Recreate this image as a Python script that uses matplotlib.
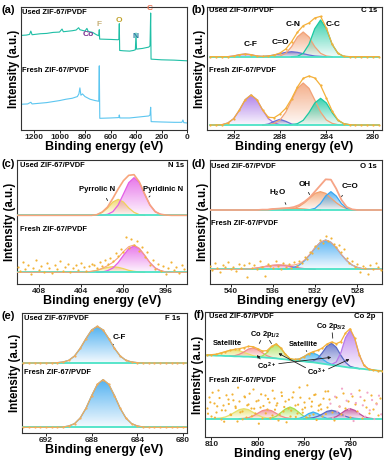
import numpy as np
import matplotlib.pyplot as plt
from matplotlib.path import Path
from matplotlib.patches import PathPatch, FancyArrowPatch
from matplotlib.colors import to_rgb

plt.rcParams['font.family'] = ['Liberation Sans', 'DejaVu Sans']
plt.rcParams['font.weight'] = 'bold'
plt.rcParams['mathtext.fontset'] = 'custom'
plt.rcParams['mathtext.rm'] = 'Liberation Sans:bold'
plt.rcParams['mathtext.default'] = 'rm'

# ---------------- data (intensity in arbitrary units) ----------------
# (a) survey
survey_used_x = [1302, 1260, 1235, 1225, 1215, 1150, 1100, 1050, 1000, 980, 970, 900, 870, 850, 840,
                 800, 785, 775, 740, 710, 692, 688, 685, 600, 540, 534, 531, 528, 500, 450, 420, 405,
                 400, 396, 350, 300, 290, 285, 282, 200, 100, 0]
survey_used_y = [283, 284, 286, 296, 285, 288, 289, 292, 293, 302, 294, 297, 299, 306, 300,
                 296, 304, 295, 292, 285, 282, 300, 272, 271, 270, 272, 318, 238, 237, 236, 238, 240,
                 290, 242, 244, 248, 252, 350, 212, 210, 209, 207]
survey_fresh_x = [1302, 1250, 1225, 1215, 1100, 1000, 950, 900, 860, 848, 840, 832, 820, 800, 760,
                  720, 692, 688, 684, 600, 540, 534, 531, 527, 450, 400, 350, 300, 290, 285, 281,
                  200, 100, 40, 32, 25, 0]
survey_fresh_y = [77, 78, 83, 78, 82, 88, 92, 95, 100, 108, 126, 104, 108, 100, 92,
                  88, 86, 192, 35, 36, 37, 38, 45, 36, 36, 38, 40, 42, 45, 68, 25,
                  24, 23, 23, 30, 22, 21]

# (b) C 1s, 294.0 -> 279.5 eV every 0.5 eV
c1s_x = np.arange(294.0, 279.25, -0.5)
c1s_used_base = 220
c1s_used_cf = [0,0,0,0,2,6,8,6,2,0, 0,0,0,0,0,0,0,0,0,0, 0,0,0,0,0,0,0,0,0,0]
c1s_used_co = [0,0,0,0,0,0,0,0,0,1, 2,5,9,13,15,13,9,5,2,1, 0,0,0,0,0,0,0,0,0,0]
c1s_used_cn = [0,0,0,0,0,0,0,0,0,0, 0,0,2,10,30,59,74,59,30,10, 2,0,0,0,0,0,0,0,0,0]
c1s_used_cc = [0,0,0,0,0,0,0,0,0,0, 0,0,0,0,0,1,10,37,84,110, 84,37,10,1,0,0,0,0,0,0]
c1s_fresh_base = 15
c1s_fresh_cf = [0,0,1,6,19,45,76,90,76,45, 19,6,1,0,0,0,0,0,0,0, 0,0,0,0,0,0,0,0,0,0]
c1s_fresh_co = [0,0,0,0,0,0,0,0,0,0, 3,11,17,11,3,0,0,0,0,0, 0,0,0,0,0,0,0,0,0,0]
c1s_fresh_cn = [0,0,0,0,0,0,0,0,0,0, 1,5,15,39,75,110,126,110,75,39, 15,5,1,0,0,0,0,0,0,0]
c1s_fresh_cc = [0,0,0,0,0,0,0,0,0,0, 0,0,0,0,1,4,14,37,66,80, 66,37,14,4,1,0,0,0,0,0]

# (c) N 1s, 410.0 -> 394.0 eV every 0.5 eV
n1s_x = np.arange(410.0, 393.75, -0.5)
n1s_used_base = 206
n1s_used_pyrrolic = [0,0,0,0,0,0,0,0,0,0, 0,0,0,0,0,2,9,22,40,48, 40,22,9,2,0,0,0,0,0,0, 0,0,0]
n1s_used_pyridinic = [0,0,0,0,0,0,0,0,0,0, 0,0,0,0,0,0,1,3,11,31, 64,98,113,98,64,31,11,3,1,0, 0,0,0]
n1s_fresh_base = 35
n1s_fresh_pyrrolic = [0,0,0,0,0,0,0,0,0,0, 0,0,0,1,3,6,11,15,17,15, 11,6,3,1,0,0,0,0,0,0, 0,0,0]
n1s_fresh_pyridinic = [0,0,0,0,0,0,0,0,0,0, 0,0,0,0,0,0,1,5,13,29, 51,71,79,71,51,29,13,5,1,0, 0,0,0]
n1s_dot_x = np.arange(410.0, 394.1, -0.25)
n1s_fresh_dots = [52, 38, 66, 45, 58, 30, 49, 71, 41, 55, 36, 62, 47, 33, 58, 44, 69, 39, 51, 60,
                  35, 48, 57, 42, 64, 50, 38, 55, 61,
                  58, 47, 66, 55, 72, 60, 78, 70, 92, 84, 105, 96, 142, 108, 135, 118,
                  128, 100, 112, 80, 95, 58, 72, 44,
                  60, 38, 55, 30, 47, 66, 41, 52, 34, 58, 45]

# (d) O 1s, 542.0 -> 525.5 eV every 0.5 eV
o1s_x = np.arange(542.0, 525.25, -0.5)
o1s_used_base = 222
o1s_used_h2o = [0,0,0,0,0,0,0,0,0,0, 1,1,3,4,5,5,5,4,3,1, 1,0,0,0,0,0,0,0,0,0, 0,0,0,0]
o1s_used_oh = [0,0,0,0,0,0,0,0,0,0, 0,0,0,0,0,1,4,11,22,36, 50,55,50,36,22,11,4,1,0,0, 0,0,0,0]
o1s_used_co = [0,0,0,0,0,0,0,0,0,0, 0,0,0,0,0,0,0,0,0,1, 5,19,42,55,42,19,5,1,0,0, 0,0,0,0]
o1s_fresh_base = 44
o1s_fresh_h2o = [0,0,0,0,0,0,0,1,2,4, 7,10,12,13,12,10,7,4,2,1, 0,0,0,0,0,0,0,0,0,0, 0,0,0,0]
o1s_fresh_co = [0,0,0,0,0,0,0,0,0,0, 0,0,0,0,1,2,6,13,26,44, 65,81,88,81,65,44,26,13,6,2, 1,0,0,0]
o1s_dot_x = np.arange(542.0, 525.6, -0.25)
o1s_fresh_dots = [55, 42, 63, 48, 37, 58, 50, 66, 44, 52, 39, 61, 47, 56, 22, 64, 49, 58, 45, 70,
                  52, 25, 60, 55, 47, 68, 53, 44,
                  62, 50, 60, 48, 66, 55, 70, 64, 80, 76, 97, 92, 115, 108, 133, 124,
                  145, 128, 138, 120, 112, 118, 95, 104,
                  78, 62, 70, 52, 60, 36, 55, 48, 30, 58, 45, 62, 50, 41]

# (e) F 1s, 694.0 -> 679.5 eV every 0.5 eV
f1s_x = np.arange(694.0, 679.25, -0.5)
f1s_used_base = 210
f1s_used_cf = [0,0,0,0,0,0,1,3,8,21, 44,73,99,110,99,73,44,21,8,3, 1,0,0,0,0,0,0,0,0,0]
f1s_fresh_base = 17
f1s_fresh_cf = [0,0,0,0,0,0,0,1,4,11, 28,57,95,129,143,129,95,57,28,11, 4,1,0,0,0,0,0,0,0,0]

# (f) Co 2p, 811 -> 773 eV every 1 eV
co2p_x = np.arange(811, 772.5, -1)
co2p_used_base = [245, 245, 244, 244, 243, 243, 242, 242, 241, 241, 240, 239, 239, 238, 237, 236,
                  234, 233, 231, 230, 228, 227, 225, 224, 222, 220, 218, 216, 214, 212, 210, 208,
                  207, 205, 204, 202, 201, 199, 198]
co2p_used_sat1 = [1,2,4,8,13,17,19,17,13,8, 4,2,1,0,0,0,0,0,0,0, 0,0,0,0,0,0,0,0,0,0, 0,0,0,0,0,0,0,0,0]
co2p_used_co2_12 = [0,0,0,0,0,0,2,6,14,23, 27,23,14,6,2,0,0,0,0,0, 0,0,0,0,0,0,0,0,0,0, 0,0,0,0,0,0,0,0,0]
co2p_used_co3_12 = [0,0,0,0,0,0,0,0,0,0, 0,1,4,15,33,43,33,15,4,1, 0,0,0,0,0,0,0,0,0,0, 0,0,0,0,0,0,0,0,0]
co2p_used_sat2 = [0,0,0,0,0,0,0,0,0,0, 0,0,0,0,0,0,0,0,0,2, 6,14,24,28,24,14,6,2,0,0, 0,0,0,0,0,0,0,0,0]
co2p_used_co2_32 = [0,0,0,0,0,0,0,0,0,0, 0,0,0,0,0,0,0,0,0,0, 0,0,1,4,14,33,55,65,55,33, 14,4,1,0,0,0,0,0,0]
co2p_used_co3_32 = [0,0,0,0,0,0,0,0,0,0, 0,0,0,0,0,0,0,0,0,0, 0,0,0,0,0,0,0,2,11,41, 88,113,88,41,11,2,0,0,0]
co2p_fresh_base = 55
co2p_fresh_sat1 = [0,0,1,2,5,11,19,27,30,27, 19,11,5,2,1,0,0,0,0,0, 0,0,0,0,0,0,0,0,0,0, 0,0,0,0,0,0,0,0,0]
co2p_fresh_co2_12 = [0,0,0,0,0,0,0,0,1,3, 8,16,24,27,24,16,8,3,1,0, 0,0,0,0,0,0,0,0,0,0, 0,0,0,0,0,0,0,0,0]
co2p_fresh_co3_12 = [0,0,0,0,0,0,0,0,0,0, 0,0,0,0,2,7,18,29,35,29, 18,7,2,0,0,0,0,0,0,0, 0,0,0,0,0,0,0,0,0]
co2p_fresh_sat2 = [0,0,0,0,0,0,0,0,0,0, 0,0,0,0,0,0,0,0,0,0, 1,6,15,20,15,6,1,0,0,0, 0,0,0,0,0,0,0,0,0]
co2p_fresh_co2_32 = [0,0,0,0,0,0,0,0,0,0, 0,0,0,0,0,0,0,0,0,0, 0,0,1,3,7,14,22,25,22,14, 7,3,1,0,0,0,0,0,0]
co2p_fresh_co3_32 = [0,0,0,0,0,0,0,0,0,0, 0,0,0,0,0,0,0,0,0,0, 0,0,0,0,0,0,0,2,6,15, 25,30,25,15,6,2,0,0,0]
co2p_dot_x = np.arange(811, 773.4, -0.5)
co2p_fresh_dots = [88, 120, 62, 101, 75, 140, 55, 96, 82, 115, 68, 130, 92, 47, 108, 79, 124, 60, 99, 86,
                   145, 71, 112, 90, 58, 126, 83, 104, 66, 118, 95, 50, 135, 77, 109, 88, 63, 121, 97, 72,
                   150, 84, 106, 59, 116, 92, 70, 128, 81, 100, 64, 138, 89, 113, 75, 52, 119, 94, 69, 131,
                   86, 107, 61, 123, 98, 78, 142, 57, 110, 91, 73, 127, 85, 103, 66, 117]
co2p_fresh_dots2 = [70, 104, 133, 58, 92, 117, 80, 46, 125, 99, 66, 110, 87, 148, 74, 53, 119, 95, 130, 62,
                    85, 107, 40, 128, 93, 71, 114, 56, 139, 82, 101, 67, 123, 90, 44, 112, 79, 134, 60, 97,
                    118, 73, 88, 155, 64, 106, 126, 51, 94, 83, 115, 69, 137, 100, 58, 121, 76, 91, 145, 63,
                    109, 84, 129, 48, 102, 72, 120, 95, 61, 133, 80, 111, 54, 98, 124, 68]

# ---------------- colours ----------------
base_col = '#4ae3c6'
env_col = '#f4b03a'
dot_col = '#f2b336'

W, H = 387, 461
fig = plt.figure(figsize=(W / 100, H / 100), dpi=100)


def panel(l, t, r, b):
    ax = fig.add_axes([l / W, 1 - b / H, (r - l) / W, (b - t) / H])
    for s in ax.spines.values():
        s.set_color('#333333')
        s.set_linewidth(0.8)
    ax.set_yticks([])
    ax.tick_params(axis='x', labelsize=6, width=0.7, length=2, pad=1.2, colors='#222222')
    ax.set_xlabel('Binding energy (eV)', fontsize=9, fontweight='bold', labelpad=0)
    ax.set_ylabel('Intensity (a.u.)', fontsize=8.3, fontweight='bold', labelpad=1)
    return ax


def txt(x, y, s, size=5.4, color='black', ha='left', **kw):
    fig.text(x / W, 1 - y / H, s, fontsize=size, color=color, ha=ha, va='center', fontweight='bold', **kw)


def line(x1, y1, x2, y2, head=False):
    fig.add_artist(FancyArrowPatch((x1 / W, 1 - y1 / H), (x2 / W, 1 - y2 / H), transform=fig.transFigure,
                                   arrowstyle='-|>' if head else '-', mutation_scale=4, lw=0.6, color='#222222'))


def comp(ax, x, base, y, color, z=2):
    x = np.asarray(x, float)
    y = np.asarray(y, float)
    base = np.broadcast_to(np.asarray(base, float), x.shape)
    top = base + y
    nz = np.nonzero(y)[0]
    lo, hi = max(nz[0] - 1, 0), min(nz[-1] + 2, len(x))
    xs, bs, ts = x[lo:hi], base[lo:hi], top[lo:hi]
    verts = np.column_stack([np.r_[xs, xs[::-1]], np.r_[ts, bs[::-1]]])
    patch = PathPatch(Path(verts), facecolor='none', edgecolor='none')
    ax.add_patch(patch)
    grad = np.zeros((50, 1, 4))
    grad[..., :3] = to_rgb(color)
    grad[:, 0, 3] = np.linspace(0.06, 0.85, 50)
    im = ax.imshow(grad, extent=[xs.min(), xs.max(), bs.min(), ts.max()], origin='lower',
                   aspect='auto', zorder=z, interpolation='bilinear')
    im.set_clip_path(patch)
    ax.plot(xs, ts, color=color, lw=0.9, zorder=z + 0.1)


def spectrum(ax, x, base, comps, colors, ecol=env_col, dots=True, elw=1.0):
    for c, col in zip(comps, colors):
        comp(ax, x, base, c, col)
    b = np.broadcast_to(np.asarray(base, float), np.shape(x))
    env = b + np.sum(np.array(comps, float), axis=0)
    ax.plot(x, b, color=base_col, lw=1.3, zorder=4)
    if dots:
        ax.plot(x, env, color=ecol, lw=0.9, marker='o', ms=1.6, mew=0, zorder=5)
    else:
        ax.plot(x, env, color=ecol, lw=elw, zorder=5)


# ---------------- (a) survey ----------------
ax = panel(21, 7, 187, 130)
ax.plot(survey_used_x, survey_used_y, color='#1fbfa6', lw=0.8)
ax.plot(survey_fresh_x, survey_fresh_y, color='#5cc6f0', lw=0.8)
ax.set_xlim(1302, 0)
ax.set_ylim(0, 368)
ax.set_xticks([1200, 1000, 800, 600, 400, 200, 0])
txt(1, 10, '(a)', 8)
txt(22, 13, 'Used ZIF-67/PVDF')
txt(22, 70, 'Fresh ZIF-67/PVDF')
txt(88, 34, 'Co', 6, '#7a2a8e', ha='center')
txt(99, 25, 'F', 6, '#c8b27a', ha='center')
txt(119, 21, 'O', 6, '#c0a22a', ha='center')
txt(136, 37, 'N', 6, '#2f7fa3', ha='center', backgroundcolor='none')
txt(150, 9, 'C', 6, '#e8704f', ha='center')

# ---------------- (b) C 1s ----------------
ax = panel(207, 7, 382, 130)
cols_c = ['#a46ee6', '#6670d6', '#f2a277', '#19c9a2']
spectrum(ax, c1s_x, c1s_used_base, [c1s_used_cf, c1s_used_co, c1s_used_cn, c1s_used_cc], cols_c)
spectrum(ax, c1s_x, c1s_fresh_base, [c1s_fresh_cf, c1s_fresh_co, c1s_fresh_cn, c1s_fresh_cc], cols_c)
ax.set_xlim(294.3, 279.2)
ax.set_ylim(0, 369)
ax.set_xticks([292, 288, 284, 280])
txt(191, 10, '(b)', 8)
txt(209, 11, 'Used ZIF-67/PVDF')
txt(377, 11, 'C 1s', 5.6, ha='right')
txt(251, 45, 'C-F', 6, ha='center')
txt(280, 43, 'C=O', 6, ha='center')
txt(293, 25, 'C-N', 6, ha='center')
txt(333, 25, 'C-C', 6, ha='center')
txt(209, 70, 'Fresh ZIF-67/PVDF')

# ---------------- (c) N 1s ----------------
ax = panel(17, 160, 187, 284)
cols_n = ['#f0d25a', '#e35ee6']
spectrum(ax, n1s_x, n1s_used_base, [n1s_used_pyrrolic, n1s_used_pyridinic], cols_n,
         ecol='#f7a57c', dots=False, elw=1.2)
spectrum(ax, n1s_x, n1s_fresh_base, [n1s_fresh_pyrrolic, n1s_fresh_pyridinic], cols_n,
         ecol='#f7a57c', dots=False, elw=0.8)
ax.scatter(n1s_dot_x, n1s_fresh_dots, s=2.5, color=dot_col, lw=0, zorder=6)
ax.set_xlim(410.05, 394.0)
ax.set_ylim(0, 372)
ax.set_xticks([408, 404, 400, 396])
txt(1, 164, '(c)', 8)
txt(20, 165, 'Used ZIF-67/PVDF')
txt(184, 165, 'N 1s', 5.6, ha='right')
txt(97, 189, 'Pyrrolic N', 5.6, ha='center')
line(105, 196, 109, 203)
txt(163, 189, 'Pyridinic N', 5.6, ha='center')
line(152, 194, 147, 199)
txt(20, 229, 'Fresh ZIF-67/PVDF')

# ---------------- (d) O 1s ----------------
ax = panel(210, 160, 382, 284)
spectrum(ax, o1s_x, o1s_used_base, [o1s_used_h2o, o1s_used_oh, o1s_used_co],
         ['#f0a070', '#f3a16d', '#3aa6f2'], ecol='#f6a486', dots=False, elw=1.3)
spectrum(ax, o1s_x, o1s_fresh_base, [o1s_fresh_h2o, o1s_fresh_co],
         ['#e2609f', '#3aa6f2'], ecol='#f6a486', dots=False, elw=0.8)
ax.scatter(o1s_dot_x, o1s_fresh_dots, s=2.5, color=dot_col, lw=0, zorder=6)
ax.set_xlim(541.96, 525.66)
ax.set_ylim(0, 372)
ax.set_xticks([540, 536, 532, 528])
txt(192, 164, '(d)', 8)
txt(211, 166, 'Used ZIF-67/PVDF')
txt(377, 166, 'O 1s', 5.6, ha='right')
txt(278, 193, 'H$_2$O', 5.8, ha='center')
line(284, 200, 287, 207)
txt(305, 185, 'OH', 5.8, ha='center')
line(307, 190, 311, 197)
txt(350, 187, 'C=O', 5.8, ha='center')
line(344, 193, 340, 199)
txt(211, 223, 'Fresh ZIF-67/PVDF')

# ---------------- (e) F 1s ----------------
ax = panel(22, 313, 187, 433)
spectrum(ax, f1s_x, f1s_used_base, [f1s_used_cf], ['#34a4ee'], ecol='#f4ad5a')
spectrum(ax, f1s_x, f1s_fresh_base, [f1s_fresh_cf], ['#34a4ee'], ecol='#f4ad5a')
ax.set_xlim(694.1, 679.65)
ax.set_ylim(0, 360)
ax.set_xticks([692, 688, 684, 680])
txt(1, 316, '(e)', 8)
txt(24, 318, 'Used ZIF-67/PVDF')
txt(180, 318, 'F 1s', 5.6, ha='right')
txt(119, 337, 'C-F', 5.8, ha='center')
line(115, 342, 112, 347)
txt(24, 372, 'Fresh ZIF-67/PVDF')

# ---------------- (f) Co 2p ----------------
ax = panel(205, 312, 382, 437)
cols_co = ['#e8e06a', '#f28a8a', '#a6e04e', '#3cb2f2', '#5a6ac6', '#b778ea']
spectrum(ax, co2p_x, co2p_used_base,
         [co2p_used_sat1, co2p_used_co2_12, co2p_used_co3_12, co2p_used_sat2, co2p_used_co2_32,
          co2p_used_co3_32], cols_co)
spectrum(ax, co2p_x, co2p_fresh_base,
         [co2p_fresh_sat1, co2p_fresh_co2_12, co2p_fresh_co3_12, co2p_fresh_sat2, co2p_fresh_co2_32,
          co2p_fresh_co3_32], cols_co[:5] + ['#c0509a'], dots=False, ecol='none')
ax.scatter(co2p_dot_x, co2p_fresh_dots, s=2.5, color=dot_col, lw=0, zorder=6)
ax.scatter(co2p_dot_x - 0.25, co2p_fresh_dots2, s=2.5,
           color=np.where(co2p_dot_x < 785, '#f2a6c8', dot_col), lw=0, zorder=6)
ax.set_xlim(811.4, 773.1)
ax.set_ylim(0, 375)
ax.set_xticks([810, 800, 790, 780])
txt(193, 315, '(f)', 8)
txt(209, 316, 'Used ZIF-67/PVDF')
txt(376, 316, 'Co 2p', 5.6, ha='right')
txt(227, 343, 'Satellite', 5.4, ha='center')
txt(265, 334, 'Co 2p$_{1/2}$', 5.4, ha='center')
line(262, 338, 258, 346)
line(268, 338, 273, 346)
txt(303, 344, 'Satellite', 5.4, ha='center')
line(305, 348, 308, 354)
txt(331, 326, 'Co 2p$_{3/2}$', 5.4, ha='center')
line(332, 330, 333, 341)
txt(266, 366, 'Co$^{2+}$', 5.4, ha='center')
line(262, 361, 255, 353, head=True)
line(276, 364, 334, 357, head=True)
txt(316, 372, 'Co$^{3+}$', 5.4, ha='center')
line(308, 369, 276, 352, head=True)
line(326, 370, 352, 358, head=True)
txt(209, 380, 'Fresh ZIF-67/PVDF')

fig.savefig('out.png', dpi=100)
